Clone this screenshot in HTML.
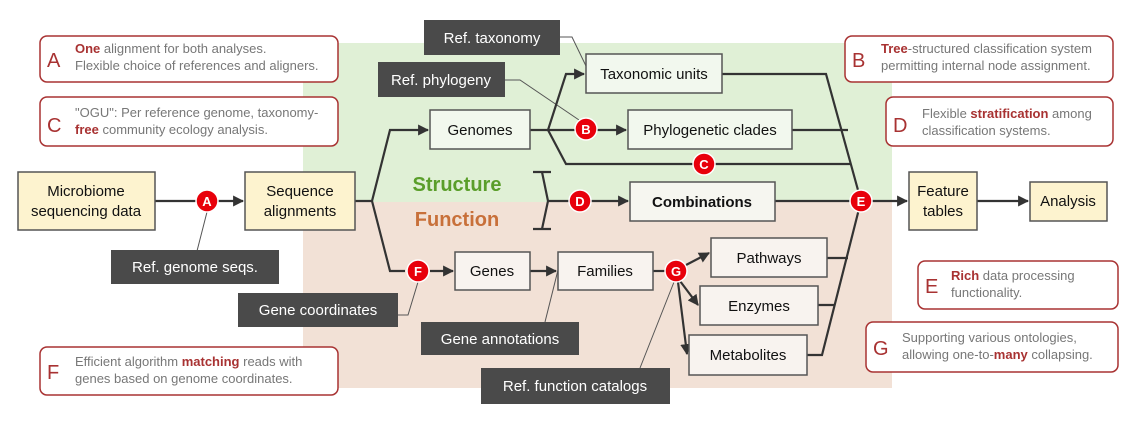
<!DOCTYPE html>
<html><head><meta charset="utf-8"><style>
body{margin:0;background:#fff}
svg{display:block;font-family:"Liberation Sans",Arial,sans-serif}
.n{fill:#fdf3cf;stroke:#555;stroke-width:1.5}
.g{fill:#f2f8ee;stroke:#555;stroke-width:1.5}
.p{fill:#f8f3ef;stroke:#555;stroke-width:1.5}
.d{fill:#4a4a4a}
.dt{fill:#fff;font-size:15px;text-anchor:middle}
.t{font-size:15px;text-anchor:middle;fill:#111}
.l{stroke:#333;stroke-width:2.2;fill:none}
.th{stroke:#555;stroke-width:1;fill:none}
.note{fill:#fff;stroke:#a83232;stroke-width:1.5}
.nl{fill:#a83232;font-size:20px}
.nt{fill:#777;font-size:13px}
.c{fill:#e8000b;stroke:#fff;stroke-width:1.5}
.ct{fill:#fff;font-weight:bold;font-size:13px;text-anchor:middle}
</style></head><body>
<svg width="1145" height="424" viewBox="0 0 1145 424">
<defs><marker id="a" viewBox="0 0 10 10" refX="9" refY="5" markerWidth="5" markerHeight="5" orient="auto"><path d="M0,0L10,5L0,10z" fill="#333"/></marker></defs>
<rect x="303" y="43" width="589" height="159" fill="#e0f0d6"/>
<rect x="303" y="202" width="589" height="186" fill="#f2e1d6"/>
<text x="457" y="191" font-size="20" font-weight="bold" fill="#5a9e2a" text-anchor="middle">Structure</text>
<text x="457" y="226" font-size="20" font-weight="bold" fill="#c8703a" text-anchor="middle">Function</text>
<path class="th" d="M560,37H572L586,66M505,80H520L582,122M197,251L207,212M398,315H408L418,282M545,322L558,270M640,368L674,282"/>
<path class="l" d="M155,201H196" /><path class="l" d="M218,201H243" marker-end="url(#a)"/>
<path class="l" d="M355,201H372L390,130H428" marker-end="url(#a)"/>
<path class="l" d="M372,201L390,271H405"/><path class="l" d="M430,271H453" marker-end="url(#a)"/>
<path class="l" d="M530,130H548L566,74H584" marker-end="url(#a)"/>
<path class="l" d="M548,130H575"/><path class="l" d="M597,130H626" marker-end="url(#a)"/>
<path class="l" d="M548,130L566,164H850"/>
<path class="l" d="M722,74H826L861,201"/>
<path class="l" d="M792,130H848"/>
<path class="l" d="M861,201L822,355H807M827,258H848M818,305H835"/>
<path class="l" d="M533,172H551M542,172L548,201L542,229M533,229H551M548,201H569"/>
<path class="l" d="M591,201H628" marker-end="url(#a)"/>
<path class="l" d="M775,201H850"/><path class="l" d="M872,201H907" marker-end="url(#a)"/>
<path class="l" d="M977,201H1028" marker-end="url(#a)"/>
<path class="l" d="M530,271H556" marker-end="url(#a)"/>
<path class="l" d="M653,271H665"/>
<path class="l" d="M686,265L709,253" marker-end="url(#a)"/>
<path class="l" d="M680,281L698,305" marker-end="url(#a)"/>
<path class="l" d="M678,282L687,354" marker-end="url(#a)"/>
<rect class="n" x="18" y="172" width="137" height="58"/><text class="t" x="86" y="196">Microbiome</text><text class="t" x="86" y="216">sequencing data</text>
<rect class="n" x="245" y="172" width="110" height="58"/><text class="t" x="300" y="196">Sequence</text><text class="t" x="300" y="216">alignments</text>
<rect class="g" x="430" y="110" width="100" height="39"/><text class="t" x="480" y="135">Genomes</text>
<rect class="g" x="586" y="54" width="136" height="39"/><text class="t" x="654" y="79">Taxonomic units</text>
<rect class="g" x="628" y="110" width="164" height="39"/><text class="t" x="710" y="135">Phylogenetic clades</text>
<rect class="g" x="630" y="182" width="145" height="39" style="fill:#f6f6f0"/><text class="t" x="702" y="207" font-weight="bold">Combinations</text>
<rect class="n" x="909" y="172" width="68" height="58"/><text class="t" x="943" y="196">Feature</text><text class="t" x="943" y="216">tables</text>
<rect class="n" x="1030" y="182" width="77" height="39"/><text class="t" x="1068" y="206">Analysis</text>
<rect class="p" x="455" y="252" width="75" height="38"/><text class="t" x="492" y="276">Genes</text>
<rect class="p" x="558" y="252" width="95" height="38"/><text class="t" x="605" y="276">Families</text>
<rect class="p" x="711" y="238" width="116" height="39"/><text class="t" x="769" y="263">Pathways</text>
<rect class="p" x="700" y="286" width="118" height="39"/><text class="t" x="759" y="311">Enzymes</text>
<rect class="p" x="689" y="335" width="118" height="40"/><text class="t" x="748" y="360">Metabolites</text>
<rect class="d" x="424" y="20" width="136" height="35"/><text class="dt" x="492" y="43">Ref. taxonomy</text>
<rect class="d" x="378" y="62" width="127" height="35"/><text class="dt" x="441" y="85">Ref. phylogeny</text>
<rect class="d" x="111" y="250" width="168" height="34"/><text class="dt" x="195" y="272">Ref. genome seqs.</text>
<rect class="d" x="238" y="293" width="160" height="34"/><text class="dt" x="318" y="315">Gene coordinates</text>
<rect class="d" x="421" y="322" width="158" height="33"/><text class="dt" x="500" y="344">Gene annotations</text>
<rect class="d" x="481" y="368" width="189" height="36"/><text class="dt" x="575" y="391">Ref. function catalogs</text>
<circle class="c" cx="207" cy="201" r="11"/><text class="ct" x="207" y="206">A</text>
<circle class="c" cx="586" cy="129" r="11"/><text class="ct" x="586" y="134">B</text>
<circle class="c" cx="704" cy="164" r="11"/><text class="ct" x="704" y="169">C</text>
<circle class="c" cx="580" cy="201" r="11"/><text class="ct" x="580" y="206">D</text>
<circle class="c" cx="861" cy="201" r="11"/><text class="ct" x="861" y="206">E</text>
<circle class="c" cx="418" cy="271" r="11"/><text class="ct" x="418" y="276">F</text>
<circle class="c" cx="676" cy="271" r="11"/><text class="ct" x="676" y="276">G</text>
<rect class="note" x="40" y="36" width="298" height="46" rx="7"/><text class="nl" x="47" y="67">A</text>
<text class="nt" x="75" y="53"><tspan font-weight="bold" fill="#a83232">One</tspan> alignment for both analyses.</text><text class="nt" x="75" y="70">Flexible choice of references and aligners.</text>
<rect class="note" x="40" y="97" width="298" height="49" rx="7"/><text class="nl" x="47" y="132">C</text>
<text class="nt" x="75" y="117">"OGU": Per reference genome, taxonomy-</text><text class="nt" x="75" y="134"><tspan font-weight="bold" fill="#a83232">free</tspan> community ecology analysis.</text>
<rect class="note" x="845" y="36" width="268" height="46" rx="7"/><text class="nl" x="852" y="67">B</text>
<text class="nt" x="881" y="53"><tspan font-weight="bold" fill="#a83232">Tree</tspan>-structured classification system</text><text class="nt" x="881" y="70">permitting internal node assignment.</text>
<rect class="note" x="886" y="97" width="227" height="49" rx="7"/><text class="nl" x="893" y="132">D</text>
<text class="nt" x="922" y="118">Flexible <tspan font-weight="bold" fill="#a83232">stratification</tspan> among</text><text class="nt" x="922" y="135">classification systems.</text>
<rect class="note" x="918" y="261" width="200" height="48" rx="7"/><text class="nl" x="925" y="293">E</text>
<text class="nt" x="951" y="280"><tspan font-weight="bold" fill="#a83232">Rich</tspan> data processing</text><text class="nt" x="951" y="297">functionality.</text>
<rect class="note" x="866" y="322" width="252" height="50" rx="7"/><text class="nl" x="873" y="355">G</text>
<text class="nt" x="902" y="342">Supporting various ontologies,</text><text class="nt" x="902" y="359">allowing one-to-<tspan font-weight="bold" fill="#a83232">many</tspan> collapsing.</text>
<rect class="note" x="40" y="347" width="298" height="48" rx="7"/><text class="nl" x="47" y="379">F</text>
<text class="nt" x="75" y="366">Efficient algorithm <tspan font-weight="bold" fill="#a83232">matching</tspan> reads with</text><text class="nt" x="75" y="383">genes based on genome coordinates.</text>
</svg>
</body></html>
